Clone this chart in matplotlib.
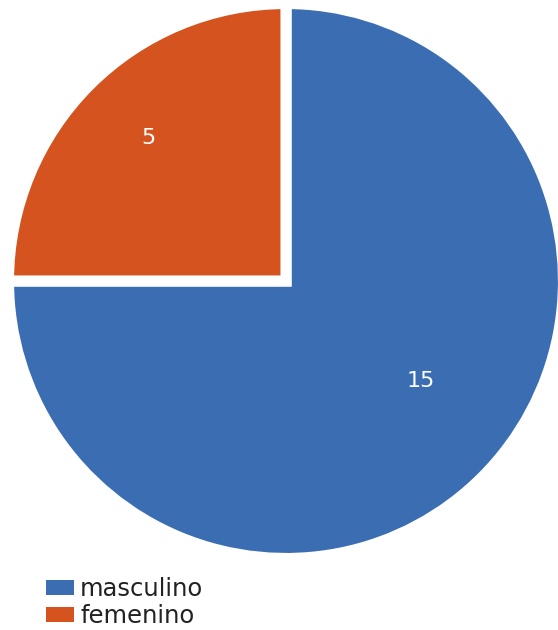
import matplotlib
matplotlib.use("Agg")
import matplotlib.pyplot as plt
from matplotlib.patches import Patch

categories = ["masculino", "femenino"]
values = [15, 5]
colors = ["#3b6db3", "#d4531f"]

W, H = 558, 630
fig = plt.figure(figsize=(W / 100, H / 100), dpi=100)

cx, cy, R = 286, 281, 277.5
ax = fig.add_axes([(cx - R) / W, (H - cy - R) / H, 2 * R / W, 2 * R / H])
wedges, texts = ax.pie(values, colors=colors, startangle=90, counterclock=False,
                       radius=1, wedgeprops=dict(edgecolor="white", linewidth=8))
ax.set_xlim(-1, 1)
ax.set_ylim(-1, 1)
ax.axis("off")

# value labels
label_pos = [(0.487, -0.360), (-0.497, 0.515)]
for v, (x, y) in zip(values, label_pos):
    ax.text(x, y, str(v), color="white", fontsize=16, ha="center", va="center")

handles = [Patch(facecolor=c, edgecolor="none") for c in colors]
fig.legend(handles, categories, loc="upper left",
           bbox_to_anchor=(46 / W, 1 - 577 / H), frameon=False,
           fontsize=17.5, handlelength=1.15, handleheight=0.62, handletextpad=0.25,
           labelspacing=0.13, borderpad=0, borderaxespad=0, labelcolor="#222222")

fig.savefig("out.png", dpi=100, facecolor="white")
